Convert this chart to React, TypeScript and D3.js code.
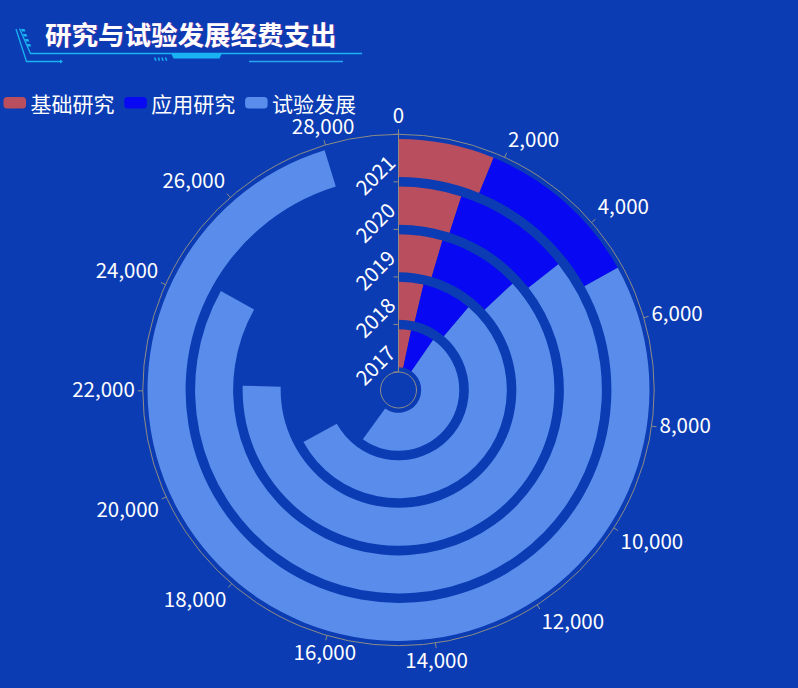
import * as React from "react";
import * as d3 from "d3";

// R&D expenditure (100 million yuan)
const years: string[] = ["2017", "2018", "2019", "2020", "2021"];
const basicResearch: number[] = [975.5, 1090.4, 1335.6, 1467.0, 1817.0];
const appliedResearch: number[] = [1849.2, 2190.9, 2498.5, 2757.2, 3145.4];
const experimentalDev: number[] = [14781.4, 16396.7, 18309.5, 20168.9, 22995.2];
const seriesNames: string[] = ["基础研究", "应用研究", "试验发展"];
const seriesColors: string[] = ["#b84e5e", "#0808f2", "#5a8deb"];
const angleTicks: number[] = [0, 2000, 4000, 6000, 8000, 10000, 12000, 14000, 16000, 18000, 20000, 22000, 24000, 26000, 28000];
const angleMax: number = 29354;
const titleText: string = "研究与试验发展经费支出";

const WIDTH = 798;
const HEIGHT = 688;
const FONT = "'Noto Sans CJK SC', 'Noto Sans', sans-serif";

export default class App extends React.PureComponent {
  private svgRef = React.createRef<SVGSVGElement>();

  public componentDidMount(): void {
    this.drawChart();
  }

  public render(): JSX.Element {
    return <svg ref={this.svgRef} width={WIDTH} height={HEIGHT}
      style={{ position: "absolute", left: 0, top: 0, display: "block" }} />;
  }

  private drawChart(): void {
    const svg = d3.select(this.svgRef.current);
    svg.selectAll("*").remove();

    svg.append("rect")
      .attr("width", WIDTH)
      .attr("height", HEIGHT)
      .attr("fill", "#0b3cb3");

    this.drawTitle(svg);
    this.drawLegend(svg);
    this.drawPolar(svg);
  }

  private drawTitle(svg: d3.Selection<SVGSVGElement | null, unknown, null, undefined>): void {
    const g = svg.append("g");
    const cyan = "#19b2f2";
    // slanted lines on the left
    g.append("path").attr("d", "M16,29 L26.5,61.5 L62,61.5").attr("fill", "none").attr("stroke", cyan).attr("stroke-width", 1.3);
    g.append("path").attr("d", "M60,59.5 L63,61.5 L60,63.5").attr("fill", cyan);
    g.append("path").attr("d", "M19.5,28.5 L30.5,53.5 L362,53.5").attr("fill", "none").attr("stroke", cyan).attr("stroke-width", 1.3);
    [0, 1, 2, 3].forEach((i: number) => {
      const x = 21 + i * 1.9;
      const y = 29 + i * 5;
      g.append("path")
        .attr("d", `M${x},${y} L${x + 3.5},${y} L${x + 4.5},${y + 2.5} L${x + 1},${y + 2.5} Z`)
        .attr("fill", cyan);
    });
    // thick segment under the title
    g.append("path").attr("d", "M171,53 L222,53 L219.5,58.5 L173.5,58.5 Z").attr("fill", cyan);
    [0, 1, 2, 3].forEach((i: number) => {
      const x = 154 + i * 3.6;
      g.append("path").attr("d", `M${x},57.5 L${x + 1.6},57.5 L${x + 2.6},60.8 L${x + 1},60.8 Z`).attr("fill", cyan);
    });
    g.append("line").attr("x1", 249).attr("x2", 343).attr("y1", 61.5).attr("y2", 61.5)
      .attr("stroke", "#2aa4f0").attr("stroke-width", 1.3);

    g.append("text")
      .attr("x", 45)
      .attr("y", 45)
      .attr("fill", "#ffffff")
      .style("font-family", FONT)
      .style("font-size", "26.5px")
      .style("font-weight", "bold")
      .style("text-shadow", "1px 0 1px rgba(230,60,160,0.55)")
      .text(titleText);
  }

  private drawLegend(svg: d3.Selection<SVGSVGElement | null, unknown, null, undefined>): void {
    const legend = svg.append("g").attr("class", "legend");
    seriesNames.forEach((name: string, i: number) => {
      const x = 3.5 + i * 120.8;
      legend.append("rect")
        .attr("x", x)
        .attr("y", 97)
        .attr("width", 22.5)
        .attr("height", 11.5)
        .attr("rx", 3.5)
        .attr("fill", seriesColors[i]);
      legend.append("text")
        .attr("x", x + 27)
        .attr("y", 102.5)
        .attr("dominant-baseline", "central")
        .attr("fill", "#ffffff")
        .style("font-family", FONT)
        .style("font-size", "21px")
        .text(name);
    });
  }

  private drawPolar(svg: d3.Selection<SVGSVGElement | null, unknown, null, undefined>): void {
    const cx = 398.5;
    const cy = 390;
    const innerR = 18;
    const outerR = 255.7;
    const axisColor = "#8d8c86";

    const g = svg.append("g").attr("transform", `translate(${cx}, ${cy})`);

    const radius = d3.scaleBand<string>()
      .domain(years)
      .range([innerR, outerR])
      .paddingInner(0.2)
      .paddingOuter(0.1);

    const angle = d3.scaleLinear()
      .domain([0, angleMax])
      .range([0, 2 * Math.PI]);

    // stacked series
    const stackRows = years.map((y: string, i: number) => ({
      year: y,
      s0: basicResearch[i],
      s1: appliedResearch[i],
      s2: experimentalDev[i]
    }));
    const stacked = d3.stack<any>().keys(["s0", "s1", "s2"])(stackRows);

    const arc = d3.arc<any>()
      .innerRadius((d: any) => radius(d.data.year) as number)
      .outerRadius((d: any) => (radius(d.data.year) as number) + radius.bandwidth())
      .startAngle((d: any) => angle(d[0]))
      .endAngle((d: any) => angle(d[1]));

    stacked.forEach((layer: any, i: number) => {
      g.append("g")
        .selectAll("path")
        .data(layer)
        .enter()
        .append("path")
        .attr("d", arc)
        .attr("fill", seriesColors[i]);
    });

    // angle axis
    g.append("circle").attr("r", outerR).attr("fill", "none").attr("stroke", axisColor).attr("stroke-width", 1);
    g.append("circle").attr("r", innerR).attr("fill", "none").attr("stroke", axisColor).attr("stroke-width", 1);

    const fmt = d3.format(",");
    angleTicks.forEach((t: number) => {
      const a = angle(t);
      const sx = Math.sin(a);
      const sy = -Math.cos(a);
      g.append("line")
        .attr("x1", sx * outerR).attr("y1", sy * outerR)
        .attr("x2", sx * (outerR + 5)).attr("y2", sy * (outerR + 5))
        .attr("stroke", axisColor);
      const lr = outerR + 8;
      const px = sx * lr;
      const py = sy * lr;
      const anchor = Math.abs(px) / outerR < 0.3 ? "middle" : (px > 0 ? "start" : "end");
      const baseline = Math.abs(py) / outerR < 0.3 ? "central" : (py > 0 ? "hanging" : "auto");
      const dy = baseline === "auto" ? -3 : (baseline === "hanging" ? -2 : -3);
      g.append("text")
        .attr("x", px)
        .attr("y", py + dy)
        .attr("text-anchor", anchor)
        .attr("dominant-baseline", baseline)
        .attr("fill", "#ffffff")
        .style("font-family", FONT)
        .style("font-size", "20.5px")
        .text(fmt(t));
    });

    // radius axis
    g.append("line")
      .attr("x1", 0).attr("y1", -innerR)
      .attr("x2", 0).attr("y2", -outerR)
      .attr("stroke", axisColor);
    const step = radius.step();
    d3.range(years.length + 1).forEach((i: number) => {
      const r = innerR + i * step;
      g.append("line")
        .attr("x1", 0).attr("y1", -r)
        .attr("x2", -5).attr("y2", -r)
        .attr("stroke", axisColor);
    });
    years.forEach((y: string) => {
      const r = (radius(y) as number) + radius.bandwidth() / 2;
      g.append("text")
        .attr("transform", `translate(-8, ${-r}) rotate(-45)`)
        .attr("text-anchor", "end")
        .attr("dominant-baseline", "central")
        .attr("fill", "#ffffff")
        .style("font-family", FONT)
        .style("font-size", "20.5px")
        .text(y);
    });
  }
}
